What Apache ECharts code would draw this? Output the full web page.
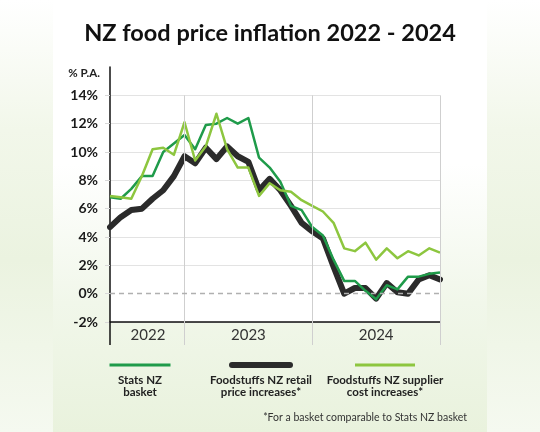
<!DOCTYPE html>
<html><head><meta charset="utf-8">
<script src="https://cdn.jsdelivr.net/npm/echarts@6/dist/echarts.min.js"></script>
<style>
html,body{margin:0;padding:0;}
#c{width:540px;height:432px;
background:
 linear-gradient(to bottom,#ffffff 0%,#ffffff 38%,#f1f7ea 70%,#e9f2dd 100%) 53px 0/434px 432px no-repeat,
 linear-gradient(to bottom,#ffffff 0%,#f2f7ea 30%,#ebf3e0 60%,#f5f9f0 100%);}
</style></head>
<body><div id="c"></div>
<script>
const months = ['May 2022','Jun 2022','Jul 2022','Aug 2022','Sep 2022','Oct 2022','Nov 2022','Dec 2022',
  'Jan 2023','Feb 2023','Mar 2023','Apr 2023','May 2023','Jun 2023','Jul 2023','Aug 2023','Sep 2023','Oct 2023','Nov 2023','Dec 2023',
  'Jan 2024','Feb 2024','Mar 2024','Apr 2024','May 2024','Jun 2024','Jul 2024','Aug 2024','Sep 2024','Oct 2024','Nov 2024','Dec 2024'];
const statsNZ = [6.8,6.7,7.4,8.3,8.3,10.0,10.6,11.2,10.2,11.9,12.0,12.4,12.0,12.4,9.6,8.9,7.9,6.2,5.9,4.7,4.1,2.4,0.9,0.9,0.2,-0.4,0.6,0.3,1.2,1.2,1.4,1.5];
const retail = [4.7,5.4,5.9,6.0,6.7,7.3,8.3,9.7,9.2,10.3,9.5,10.4,9.7,9.3,7.3,8.1,7.3,6.2,5.0,4.4,3.9,1.9,0.0,0.4,0.4,-0.35,0.75,0.1,0.0,1.0,1.3,1.0];
const supplier = [6.9,6.8,6.7,8.3,10.2,10.3,9.8,12.1,9.4,10.4,12.7,10.2,8.9,8.9,6.9,7.8,7.3,7.2,6.6,6.2,5.8,5.0,3.2,3.0,3.6,2.4,3.2,2.5,3.0,2.7,3.2,2.9];
const yearEnds = ['Dec 2022','Dec 2023','Dec 2024'];
const yearLabelAt = ['Aug 2022','Jun 2023','Jun 2024'];
const seriesNames = ['Stats NZ basket','Foodstuffs NZ retail price increases*','Foodstuffs NZ supplier cost increases*'];
const legendLines = [['Stats NZ','basket'],['Foodstuffs NZ retail','price increases*'],['Foodstuffs NZ supplier','cost increases*']];
const colors = ['#1f9b4a','#2b2b2b','#8dc63f'];

const FONT = 'Lato';
const endIdx = yearEnds.map(m => months.indexOf(m));
const labelIdx = yearLabelAt.map(m => months.indexOf(m));

const chart = echarts.init(document.getElementById('c'));
const legendCenters = [140, 261, 385];
const lineKeys = ['lA','lB','lC'];
const legends = seriesNames.map((n, i) => ({
  data: [n], selectedMode: false, icon: 'none', itemWidth: 0, itemGap: 0, padding: 0,
  left: legendCenters[i] - 65, top: 359,
  formatter: () => '{' + lineKeys[i] + '|}\n{t|' + legendLines[i][0] + '}\n{t|' + legendLines[i][1] + '}',
  textStyle: {
    rich: {
      lA: {width: 61, height: 3, lineHeight: 18, backgroundColor: colors[0], align: 'center'},
      lB: {width: 64, height: 6, lineHeight: 18, backgroundColor: colors[1], borderRadius: 3, align: 'center'},
      lC: {width: 60, height: 3, lineHeight: 18, backgroundColor: colors[2], align: 'center'},
      t: {width: 120, align: 'center', fontSize: 11.5, lineHeight: 12, fontWeight: 'bold', color: '#222', fontFamily: FONT}
    }
  }
}));

chart.setOption({
  animation: false,
  title: [
    {text: 'NZ food price inflation 2022 - 2024', left: 'center', top: 16,
     textStyle: {fontFamily: FONT, fontSize: 23.5, fontWeight: 'bold', color: '#111'}},
    {text: '*For a basket comparable to Stats NZ basket', right: 68, top: 407,
     textStyle: {fontFamily: FONT, fontSize: 10.5, fontWeight: 'normal', color: '#333'}}
  ],
  legend: legends,
  grid: {left: 110, right: 100, top: 67, bottom: 110, show: true, backgroundColor: '#ffffff', borderWidth: 0},
  xAxis: [{
    type: 'category', data: months, boundaryGap: false,
    axisLine: {show: true, onZero: false, lineStyle: {color: '#111', width: 1.5}},
    axisTick: {show: true, interval: (i) => endIdx.includes(i), length: 23, lineStyle: {color: '#cfcfcf', width: 1}},
    axisLabel: {interval: (i) => labelIdx.includes(i),
      formatter: (v, i) => i === labelIdx[0] ? '{a|' + v.slice(-4) + '}' : v.slice(-4), margin: 6,
      fontFamily: FONT, fontSize: 15, color: '#333',
      rich: {a: {padding: [0, 0, 0, 12], fontFamily: FONT, fontSize: 15, color: '#333'}}},
    splitLine: {show: false}
  }, {
    type: 'category', data: months, boundaryGap: false, position: 'bottom',
    axisLine: {show: false, onZero: false},
    axisTick: {show: true, interval: (i) => i === 0, length: 23, lineStyle: {color: '#111', width: 1.5}},
    axisLabel: {show: false}, splitLine: {show: false}
  }],
  yAxis: {
    type: 'value', min: -2, max: 16, interval: 2,
    name: '% P.A.', nameLocation: 'end', nameGap: -6,
    nameTextStyle: {align: 'right', verticalAlign: 'middle', padding: [0, 10, 0, 0], fontFamily: FONT, fontSize: 11.5, fontWeight: 'bold', color: '#222'},
    axisLine: {show: true, lineStyle: {color: '#111', width: 1.5}},
    axisTick: {show: true, length: 5, lineStyle: {color: '#d8d8d8'}},
    axisLabel: {showMaxLabel: false, formatter: (v) => v + '%', margin: 12, padding: [7, 0, 0, 0],
      fontFamily: FONT, fontSize: 14, fontWeight: 'bold', color: '#1a1a1a'},
    splitLine: {show: true, showMaxLine: false,
      lineStyle: {color: ['#e3e3e3', 'rgba(0,0,0,0)', '#e3e3e3', '#e3e3e3', '#e3e3e3', '#e3e3e3', '#e3e3e3', '#e3e3e3', '#e3e3e3', '#e3e3e3'], width: 1}}
  },
  series: [
    {name: 'grid', type: 'line', data: [], z: 1, silent: true,
     markLine: {silent: true, symbol: 'none', label: {show: false},
       lineStyle: {color: '#b0b0b0', width: 1.3, type: [5, 4], opacity: 1},
       emphasis: {disabled: true},
       data: [
         ...endIdx.map(i => [{coord: [i, 14], lineStyle: {color: '#cfcfcf', width: 1, type: 'solid'}}, {coord: [i, -2]}]),
         {yAxis: 0}
       ]}},
    {name: seriesNames[1], type: 'line', data: retail, symbol: 'none', z: 2,
     lineStyle: {color: colors[1], width: 6, cap: 'round', join: 'round'}, itemStyle: {color: colors[1]}},
    {name: seriesNames[0], type: 'line', data: statsNZ, symbol: 'none', z: 3,
     lineStyle: {color: colors[0], width: 2.5, join: 'round'}, itemStyle: {color: colors[0]}},
    {name: seriesNames[2], type: 'line', data: supplier, symbol: 'none', z: 4,
     lineStyle: {color: colors[2], width: 2.5, join: 'round'}, itemStyle: {color: colors[2]}}
  ]
});
</script>
</body></html>
